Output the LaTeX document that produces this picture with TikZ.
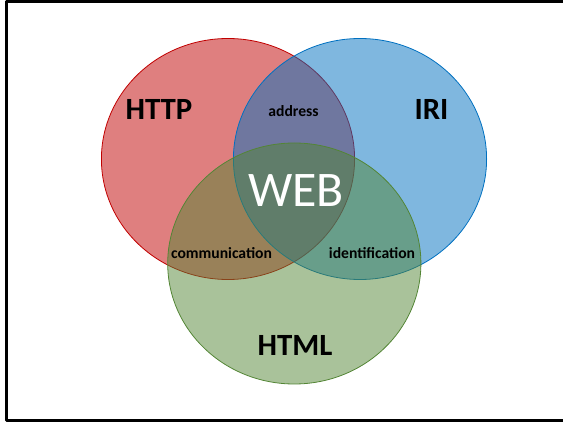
\documentclass[tikz,border=0pt]{standalone}
\usepackage{fontspec}
\setmainfont{Carlito}
\definecolor{httpred}{RGB}{192,0,0}
\definecolor{iriblue}{RGB}{0,112,192}
\definecolor{htmlgreen}{RGB}{83,133,53}
\begin{document}
\begin{tikzpicture}[line join=bevel,
  setfill/.style={fill=#1,fill opacity=0.5,draw=#1,line width=0.8bp},
  bigname/.style={anchor=base,font=\bfseries\fontsize{31}{37}\selectfont},
  smallname/.style={anchor=base,font=\bfseries\fontsize{15.7}{19}\selectfont}]
%%
\useasboundingbox (0bp,0bp) rectangle (563bp,422bp);
\draw [line width=2.5bp] (6.5bp,420.5bp) rectangle (575bp,1.5bp);
  \draw [setfill=httpred] (228bp,263bp) ellipse [x radius=126.6bp,y radius=120.5bp];
  \draw [setfill=iriblue] (360bp,263bp) ellipse [x radius=126.6bp,y radius=120.5bp];
  \draw [setfill=htmlgreen] (294.3bp,158.5bp) ellipse [x radius=126.6bp,y radius=120.5bp];
  \node (node_http) at (159bp,302.7bp) [bigname] {HTTP};
  \node (node_iri) at (431.5bp,302.7bp) [bigname] {IRI};
  \node (node_html) at (295bp,66.3bp) [bigname] {HTML};
  \node (node_web) at (296bp,215.3bp) [anchor=base,white,font=\fontsize{50}{58}\selectfont] {WEB};
  \node (node_address) at (293.5bp,305.5bp) [smallname] {address};
  \node (node_comm) at (221.5bp,163bp) [smallname] {communication};
  \node (node_ident) at (372bp,163bp) [smallname] {identification};
%
\end{tikzpicture}
\end{document}
